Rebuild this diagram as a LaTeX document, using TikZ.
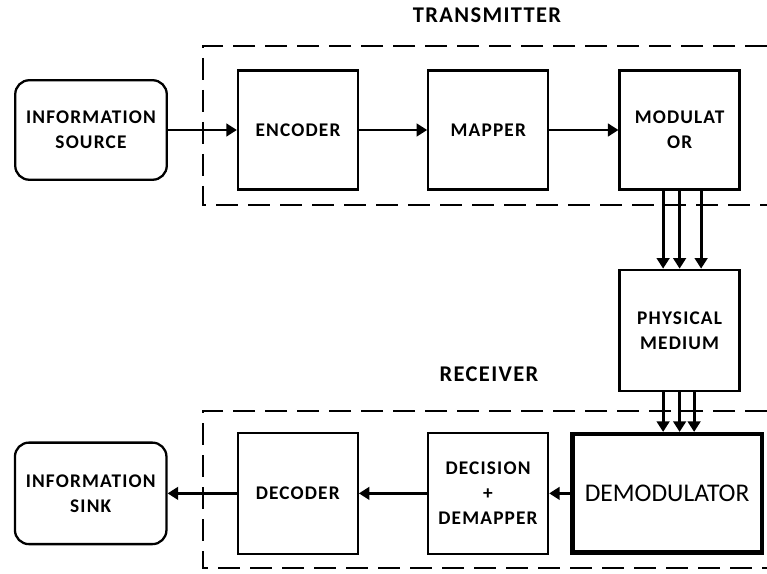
\documentclass[tikz,border=0pt]{standalone}
\usepackage{fontspec}
\setmainfont{Carlito}
\newfontfamily\etiq[LetterSpace=6]{Carlito}
\usepackage{tikz}
\usetikzlibrary{arrows.meta,positioning,calc}
\tikzset{
  bloque/.style={draw,line width=1.3pt,fill=white,minimum width=2.40cm,minimum height=2.38cm,align=center,inner sep=2pt,font=\etiq\bfseries\fontsize{11}{14.2}\selectfont},
  extremo/.style={bloque,rounded corners=0.28cm,minimum width=3.03cm,minimum height=1.99cm},
  flecha/.style={-{Triangle[length=0.21cm,width=0.25cm]},line width=1.7pt},
  marco/.style={line width=1.4pt,dash pattern=on 0.44cm off 0.2cm},
  titulo/.style={font=\etiq\bfseries\fontsize{12.8}{15}\selectfont}
}

\begin{document}
\begin{tikzpicture}
\useasboundingbox (0,0) rectangle (15.34,11.46);
\draw[marco] (15.34,10.54) -| (4.06,7.36) -- (15.34,7.36);
\draw[marco] (15.34,3.24) -| (4.06,0.10) -- (15.34,0.10);
\node[titulo] (tx) at (9.74,11.16) {TRANSMITTER};
\node[titulo] (rx) at (9.78,3.98) {RECEIVER};
\node[extremo] (fuente) at (1.82,8.86) {INFORMATION\\SOURCE};
\node[bloque,right=1.38cm of fuente] (codif) {ENCODER};
\node[bloque,right=1.36cm of codif] (mapeo) {MAPPER};
\node[bloque,right=1.38cm of mapeo] (modul) {MODULAT\\OR};
\node[bloque,below=1.56cm of modul,minimum height=2.42cm] (medio) {PHYSICAL\\MEDIUM};
\node[bloque,below=0.8cm of medio,xshift=-0.25cm,line width=2.5pt,minimum width=3.79cm,minimum height=2.37cm,font=\fontsize{14.5}{16}\selectfont] (demod) {DEMODULATOR};
\node[bloque,left=0.42cm of demod,minimum height=2.42cm] (decis) {DECISION\\+\\DEMAPPER};
\node[bloque,left=1.36cm of decis,minimum height=2.42cm] (decod) {DECODER};
\node[extremo,left=1.38cm of decod,minimum height=2.03cm] (destino) {INFORMATION\\SINK};
\draw[flecha] (fuente) -- (codif);
\draw[flecha] (codif) -- (mapeo);
\draw[flecha] (mapeo) -- (modul);
\foreach \dx in {-0.33,0,0.43}
  \draw[flecha] ([xshift=\dx cm]modul.south) -- ([xshift=\dx cm]modul.south |- medio.north);
\foreach \dx in {-0.33,0,0.29}
  \draw[flecha] ([xshift=\dx cm]medio.south) -- ([xshift=\dx cm]medio.south |- demod.north);
\draw[flecha] (demod) -- (decis);
\draw[flecha] (decis) -- (decod);
\draw[flecha] (decod) -- (destino);
\end{tikzpicture}
\end{document}
